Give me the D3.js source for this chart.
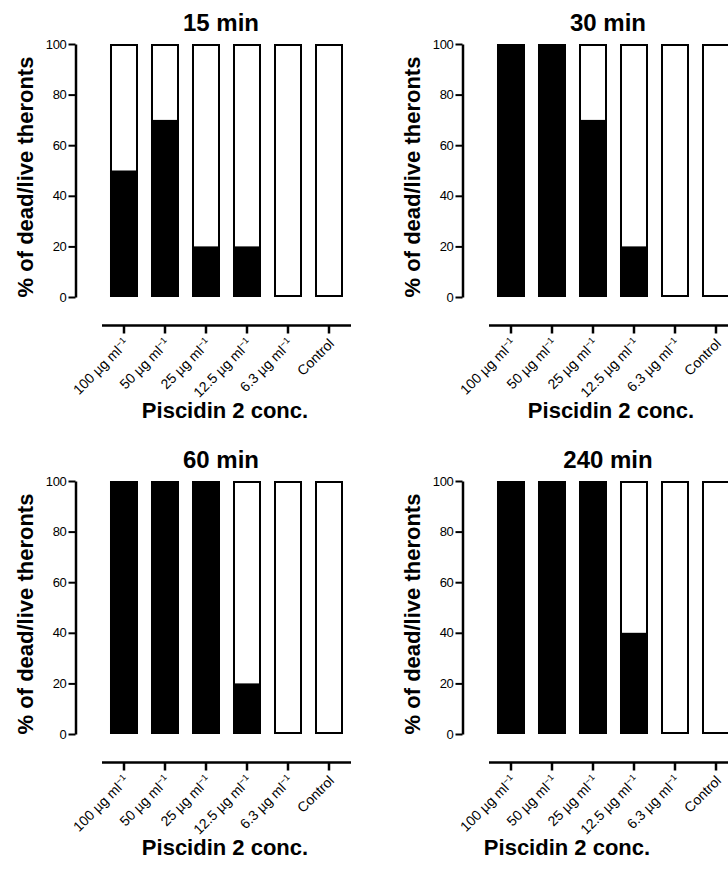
<!DOCTYPE html>
<html>
<head>
<meta charset="utf-8">
<script src="https://cdn.jsdelivr.net/npm/d3@7"></script>
<style>
  body { margin: 0; background: #fff; }
  svg { display: block; font-family: "Liberation Sans", Arial, sans-serif; }
</style>
</head>
<body>
<div id="chart"></div>
<script>
var concentrations = ["100 µg ml", "50 µg ml", "25 µg ml", "12.5 µg ml", "6.3 µg ml", "Control"];
var unitExponent = ["−1", "−1", "−1", "−1", "−1", ""];
var panelTitles = ["15 min", "30 min", "60 min", "240 min"];
var dead15 = [50, 70, 20, 20, 0, 0];
var dead30 = [100, 100, 70, 20, 0, 0];
var dead60 = [100, 100, 100, 20, 0, 0];
var dead240 = [100, 100, 100, 40, 0, 0];
var yTicks = [0, 20, 40, 60, 80, 100];
var yLabel = "% of dead/live theronts";
var xLabel = "Piscidin 2 conc.";

var width = 728, height = 870;

var svg = d3.select("#chart")
    .append("svg")
    .attr("width", width)
    .attr("height", height);

// shared scales, in panel coordinates
var y = d3.scaleLinear()
    .domain([0, 100])
    .range([297, 44]);

var x = d3.scaleBand()
    .domain(concentrations)
    .range([97, 356])
    .paddingInner(0.317)
    .paddingOuter(0.317);

// panel offsets and where each x title sits
var offsets = [[0, 0], [387, 0], [0, 437], [387, 437]];
var xTitlePos = [225, 224, 225, 180];
var panelData = [dead15, dead30, dead60, dead240];

function drawPanel(g, title, dead, xTitleX) {
    // bars: white box for 100 %, black part for dead
    var bars = g.append("g")
        .selectAll("g")
        .data(concentrations.map(function(c, i) { return {c: c, v: dead[i]}; }))
        .enter()
        .append("g");

    bars.append("rect")
        .attr("x", function(d) { return x(d.c) + 1; })
        .attr("y", y(100) + 1)
        .attr("width", x.bandwidth() - 2)
        .attr("height", y(0) - y(100) - 2)
        .attr("fill", "#fff")
        .attr("stroke", "#000")
        .attr("stroke-width", 2);

    bars.append("rect")
        .attr("x", function(d) { return x(d.c); })
        .attr("y", function(d) { return y(d.v); })
        .attr("width", x.bandwidth())
        .attr("height", function(d) { return y(0) - y(d.v); })
        .attr("fill", "#000");

    // y axis
    var yAxis = g.append("g")
        .attr("transform", "translate(75.5,0)")
        .call(d3.axisLeft(y).tickValues(yTicks).tickSize(7).tickSizeOuter(0).tickPadding(2))
        .attr("font-family", null)
        .attr("font-size", 13);
    yAxis.select(".domain").attr("stroke-width", 2.5);
    yAxis.selectAll(".tick line").attr("stroke-width", 2);
    yAxis.selectAll(".tick text").attr("fill", "#000").attr("letter-spacing", -0.3);

    // x axis, offset below the plot
    var xAxis = g.append("g")
        .attr("transform", "translate(0,325.5)")
        .call(d3.axisBottom(x).tickSize(8).tickSizeOuter(0))
        .attr("font-family", null)
        .attr("font-size", 14);
    xAxis.select(".domain")
        .attr("d", "M" + (x.range()[0] + 5) + ",0H" + (x.range()[1] - 5))
        .attr("stroke-width", 2.5);
    xAxis.selectAll(".tick line").attr("stroke-width", 2.5);
    xAxis.selectAll(".tick text")
        .attr("y", 0)
        .attr("dy", 0)
        .attr("fill", "#000")
        .attr("text-anchor", "end")
        .attr("transform", "translate(6,19) rotate(-45)")
        .text(function(d) { return d; })
        .append("tspan")
        .attr("dy", "-0.6em")
        .attr("font-size", 9)
        .text(function(d) { return unitExponent[concentrations.indexOf(d)]; });

    // titles
    g.append("text")
        .attr("x", 221)
        .attr("y", 31)
        .attr("text-anchor", "middle")
        .attr("font-weight", "bold")
        .attr("font-size", 24)
        .text(title);

    g.append("text")
        .attr("transform", "translate(33,177)rotate(-90)")
        .attr("text-anchor", "middle")
        .attr("font-weight", "bold")
        .attr("font-size", 22)
        .text(yLabel);

    g.append("text")
        .attr("x", xTitleX)
        .attr("y", 418)
        .attr("text-anchor", "middle")
        .attr("font-weight", "bold")
        .attr("font-size", 22)
        .text(xLabel);
}

panelTitles.forEach(function(t, i) {
    var g = svg.append("g")
        .attr("transform", "translate(" + offsets[i][0] + "," + offsets[i][1] + ")");
    drawPanel(g, t, panelData[i], xTitlePos[i]);
});
</script>
</body>
</html>
